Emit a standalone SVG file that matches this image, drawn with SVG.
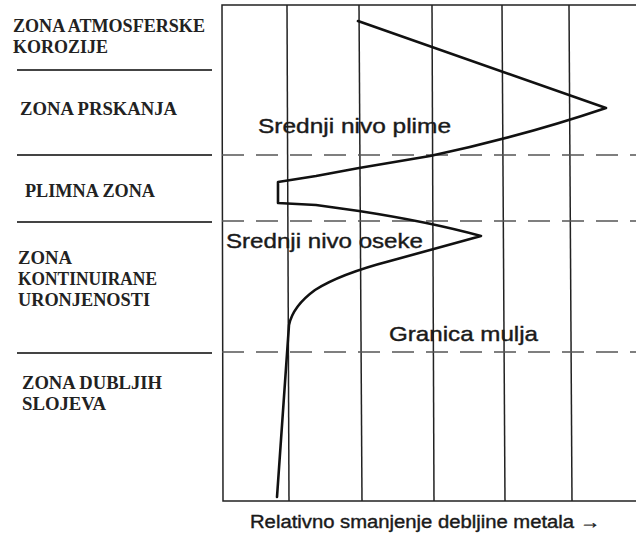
<svg xmlns="http://www.w3.org/2000/svg" width="636" height="537" viewBox="0 0 636 537">
<style>
.zl{font-family:"Liberation Serif","Times New Roman",serif;font-weight:bold;font-size:19px;fill:#222}
.sl{font-family:"Liberation Sans",Arial,sans-serif;font-size:21px;fill:#1a1a1a;stroke:#1a1a1a;stroke-width:0.4}
.ax{font-size:18px}
.sep{stroke:#444;stroke-width:2;fill:none}
.grid{stroke:#222;stroke-width:1.5;fill:none}
.dash{stroke:#555;stroke-width:1.6;stroke-dasharray:22 12;fill:none}
.curve{stroke:#111;stroke-width:2.6;fill:none;stroke-linejoin:round;stroke-linecap:round}
</style>
<rect width="636" height="537" fill="#ffffff"/>
<g id="zone-labels">
<g id="zona-atmosferske">
<text class="zl" x="13" y="32" textLength="192" lengthAdjust="spacingAndGlyphs">ZONA ATMOSFERSKE</text>
<text class="zl" x="13" y="53" textLength="95" lengthAdjust="spacingAndGlyphs">KOROZIJE</text>
</g>
<g id="zona-prskanja">
<text class="zl" x="20" y="115" textLength="157" lengthAdjust="spacingAndGlyphs">ZONA PRSKANJA</text>
</g>
<g id="plimna-zona">
<text class="zl" x="25" y="197" textLength="130" lengthAdjust="spacingAndGlyphs">PLIMNA ZONA</text>
</g>
<g id="zona-kontinuirane">
<text class="zl" x="18" y="264" textLength="54" lengthAdjust="spacingAndGlyphs">ZONA</text>
<text class="zl" x="18" y="285" textLength="139" lengthAdjust="spacingAndGlyphs">KONTINUIRANE</text>
<text class="zl" x="18" y="306" textLength="132" lengthAdjust="spacingAndGlyphs">URONJENOSTI</text>
</g>
<g id="zona-dubljih">
<text class="zl" x="22" y="389" textLength="140" lengthAdjust="spacingAndGlyphs">ZONA DUBLJIH</text>
<text class="zl" x="22" y="410" textLength="84" lengthAdjust="spacingAndGlyphs">SLOJEVA</text>
</g>
<g id="separators">
<line class="sep" x1="17" y1="70" x2="212" y2="70"/>
<line class="sep" x1="17" y1="155" x2="212" y2="155"/>
<line class="sep" x1="17" y1="222" x2="212" y2="222"/>
<line class="sep" x1="17" y1="353" x2="212" y2="353"/>
</g>
</g>
<g id="chart-frame">
<polyline class="grid" points="636,5 222,5 223,501 636,501"/>
<line class="grid" x1="287" y1="5" x2="289" y2="501"/>
<line class="grid" x1="359" y1="5" x2="362" y2="501"/>
<line class="grid" x1="432" y1="5" x2="434" y2="501"/>
<line class="grid" x1="502" y1="5" x2="505" y2="501"/>
<line class="grid" x1="569" y1="5" x2="572" y2="501"/>
</g>
<g id="levels">
<line class="dash" x1="222" y1="155" x2="636" y2="155"/>
<line class="dash" x1="222" y1="221" x2="636" y2="221"/>
<line class="dash" x1="222" y1="352" x2="636" y2="352"/>
</g>
<g id="connectors">
<path class="curve" d="M358,21 L606,108 Q520,137 430,156 L359,168 L316,176 L278,182 L278,203 L316,205 L359,211 Q430,222 481,236 L390,261 Q340,274 315,290 Q293,306 289,325 L277,497"/>
</g>
<g id="level-labels">
<text class="sl" x="258" y="133" textLength="193" lengthAdjust="spacingAndGlyphs">Srednji nivo plime</text>
<text class="sl" x="226" y="248" textLength="197" lengthAdjust="spacingAndGlyphs">Srednji nivo oseke</text>
<text class="sl" x="389" y="341" textLength="149" lengthAdjust="spacingAndGlyphs">Granica mulja</text>
<text class="sl ax" x="250" y="528" textLength="350" lengthAdjust="spacingAndGlyphs">Relativno smanjenje debljine metala →</text>
</g>
</svg>
